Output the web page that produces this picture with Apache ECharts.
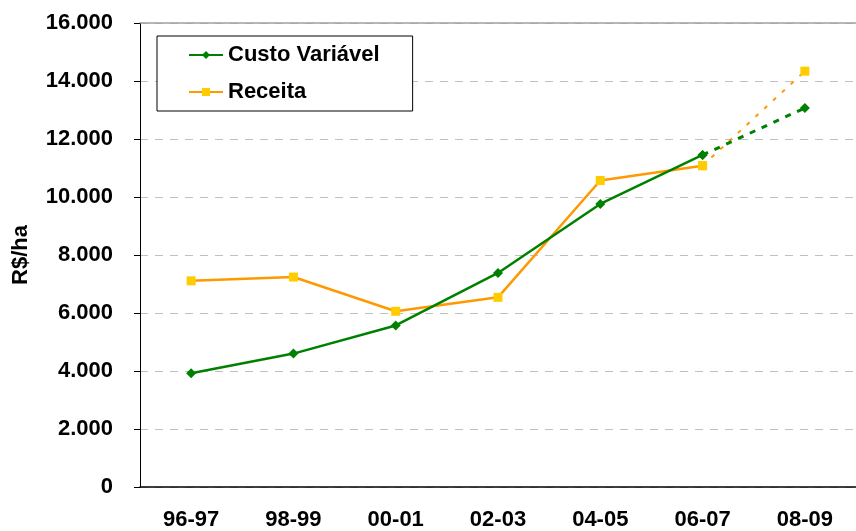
<!DOCTYPE html>
<html>
<head>
<meta charset="utf-8">
<script src="https://cdn.jsdelivr.net/npm/echarts@6/dist/echarts.min.js"></script>
<style>
  html, body { margin: 0; padding: 0; background: #fff; }
  #chart { width: 856px; height: 531px; }
</style>
</head>
<body>
<div id="chart"></div>
<script>
const safras = ["96-97", "98-99", "00-01", "02-03", "04-05", "06-07", "08-09"];
// valores realizados (ate 06-07) e projecao para 08-09
const custoVariavel = [3920, 4600, 5570, 7380, 9760, 11450];
const receita = [7110, 7240, 6060, 6540, 10570, 11080];
const custoProj = 13070;
const receitaProj = 14340;

const chart = echarts.init(document.getElementById("chart"));
const font = "'Liberation Sans', Arial, sans-serif";
const green = "#008000";
const orange = "#FF9900";
const yellow = "#FFCC00";

// serie da projecao: liga o ultimo ponto real ao ponto 08-09
function proj(real, last) {
  const out = safras.map(() => "-");
  out[real.length - 1] = real[real.length - 1];
  out[safras.length - 1] = last;
  return out;
}

chart.setOption({
  backgroundColor: "#fff",
  animation: false,
  grid: {
    left: 140,
    right: -2,
    top: 23,
    bottom: 43
  },
  legend: {
    orient: "vertical",
    left: 157,
    top: 36,
    padding: [8, 33, 8, 31],
    itemGap: 15,
    itemWidth: 34,
    itemHeight: 10,
    borderColor: "#000",
    borderWidth: 1,
    borderRadius: 0,
    backgroundColor: "#fff",
    data: ["Custo Variável", "Receita"],
    textStyle: {
      fontFamily: font,
      fontWeight: "bold",
      fontSize: 22,
      color: "#000",
      width: 153
    }
  },
  xAxis: [
    {
      type: "category",
      data: safras,
      boundaryGap: true,
      axisLine: { lineStyle: { color: "#000", width: 1.5 } },
      axisTick: { length: 8, lineStyle: { color: "#000" } },
      axisLabel: {
        margin: 22,
        color: "#000",
        fontFamily: font,
        fontWeight: "bold",
        fontSize: 22
      },
      splitLine: { show: false }
    },
    {
      // linha superior da area de plotagem
      type: "category",
      data: safras,
      position: "top",
      axisLine: { lineStyle: { color: "#a0a0a0", width: 1.5 } },
      axisTick: { show: false },
      axisLabel: { show: false },
      splitLine: { show: false }
    }
  ],
  yAxis: {
    type: "value",
    min: 0,
    max: 16000,
    interval: 2000,
    name: "R$/ha",
    nameLocation: "middle",
    nameGap: 108,
    nameTextStyle: {
      color: "#000",
      fontFamily: font,
      fontWeight: "bold",
      fontSize: 22
    },
    axisLine: { show: true, lineStyle: { color: "#000", width: 1 } },
    axisTick: { show: true, inside: false, length: 6, lineStyle: { color: "#000" } },
    axisLabel: {
      margin: 27,
      color: "#000",
      fontFamily: font,
      fontWeight: "bold",
      fontSize: 22,
      formatter: v => v === 0 ? "0" : v.toLocaleString("de-DE", { minimumFractionDigits: 0 }).replace(",", ".")
    },
    splitLine: {
      show: true,
      lineStyle: { color: "#c0c0c0", type: [8, 7], width: 1 }
    }
  },
  series: [
    {
      name: "Custo Variável",
      type: "line",
      data: custoVariavel,
      symbol: "diamond",
      symbolSize: 10,
      lineStyle: { color: green, width: 2.5 },
      itemStyle: { color: green },
      z: 3
    },
    {
      name: "Receita",
      type: "line",
      data: receita,
      symbol: "rect",
      symbolSize: 9,
      lineStyle: { color: orange, width: 2.5 },
      itemStyle: { color: yellow },
      z: 2
    },
    {
      name: "Custo Variável",
      type: "line",
      data: proj(custoVariavel, custoProj),
      symbol: "diamond",
      symbolSize: 10,
      lineStyle: { color: green, width: 3, type: [6, 7] },
      itemStyle: { color: green },
      z: 3
    },
    {
      name: "Receita",
      type: "line",
      data: proj(receita, receitaProj),
      symbol: "rect",
      symbolSize: 9,
      lineStyle: { color: orange, width: 2, type: [4, 8] },
      itemStyle: { color: yellow },
      z: 2
    }
  ]
});
</script>
</body>
</html>
